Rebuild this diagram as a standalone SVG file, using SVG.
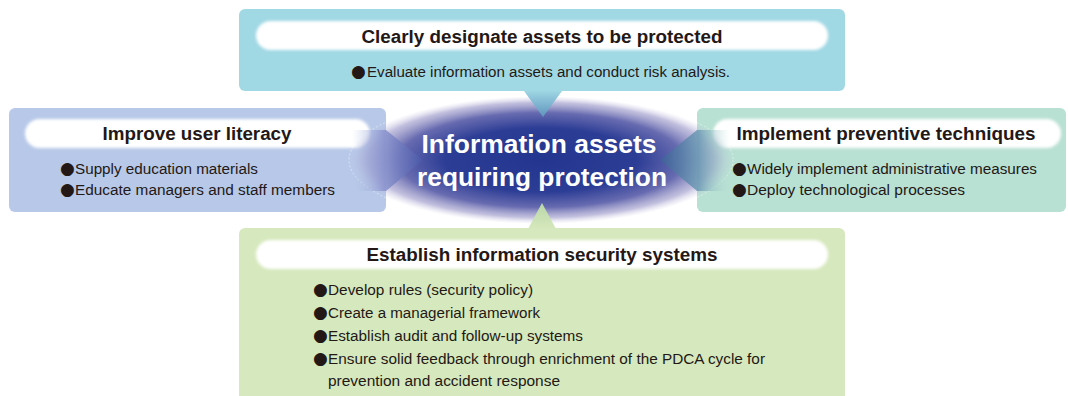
<svg xmlns="http://www.w3.org/2000/svg" width="1068" height="396" viewBox="0 0 1068 396">
<defs>
<style>
.hd{font-family:"Liberation Sans",Arial,sans-serif;font-weight:bold;font-size:18px;fill:#231815;text-anchor:middle}
.bl{font-family:"Liberation Sans",Arial,sans-serif;font-size:14px;fill:#231815}
.b{font-family:"DejaVu Sans",sans-serif;font-size:17px;fill:#231815}
.ct{font-family:"Liberation Sans",Arial,sans-serif;font-weight:bold;font-size:26px;fill:#ffffff;text-anchor:middle}
.pill{fill:#ffffff;filter:url(#soft)}
.arc{fill:none;stroke:#ffffff;stroke-opacity:.55;stroke-width:.8;stroke-dasharray:2 2}
</style>
<filter id="soft" x="-5%" y="-30%" width="110%" height="160%"><feGaussianBlur stdDeviation="1.6"/></filter>
<radialGradient id="glow" cx="0.5" cy="0.5" r="0.5">
<stop offset="0" stop-color="#23358f"/>
<stop offset="0.5" stop-color="#2c3d95"/>
<stop offset="0.74" stop-color="#5a5ea9" stop-opacity="0.92"/>
<stop offset="0.9" stop-color="#9a96c8" stop-opacity="0.6"/>
<stop offset="1" stop-color="#c9c6e2" stop-opacity="0"/>
</radialGradient>
<linearGradient id="gTop" x1="0" y1="0" x2="0" y2="1">
<stop offset="0" stop-color="#9fd6e3"/><stop offset="1" stop-color="#5e93bd"/>
</linearGradient>
<linearGradient id="gBot" x1="0" y1="1" x2="0" y2="0">
<stop offset="0" stop-color="#d6e8bd"/><stop offset="1" stop-color="#b8d6a8"/>
</linearGradient>
<linearGradient id="gLeft" x1="0" y1="0" x2="1" y2="0">
<stop offset="0" stop-color="#b7c8e8" stop-opacity="0"/><stop offset="0.45" stop-color="#8c95cf"/><stop offset="1" stop-color="#4a58a8"/>
</linearGradient>
<linearGradient id="gRight" x1="1" y1="0" x2="0" y2="0">
<stop offset="0" stop-color="#b8e0d3" stop-opacity="0"/><stop offset="0.45" stop-color="#6e9cb5"/><stop offset="1" stop-color="#3e5f98"/>
</linearGradient>
</defs>
<rect width="1068" height="396" fill="#ffffff"/>

<g id="node-top">
<rect x="239" y="9" width="606" height="82" rx="6" fill="#a0d8e4"/>
<rect class="pill" x="256" y="21" width="572" height="29" rx="14.5"/>
<text class="hd" x="542" y="43" textLength="361" lengthAdjust="spacingAndGlyphs">Clearly designate assets to be protected</text>
<text class="bl" x="351" y="77"><tspan class="b">●</tspan><tspan x="367" textLength="363" lengthAdjust="spacingAndGlyphs">Evaluate information assets and conduct risk analysis.</tspan></text>
</g>

<g id="node-left">
<rect x="9" y="108" width="377" height="104" rx="6" fill="#b7c8e8"/>
<rect class="pill" x="25" y="119" width="345" height="29" rx="14.5"/>
<text class="hd" x="197" y="140" textLength="189" lengthAdjust="spacingAndGlyphs">Improve user literacy</text>
<text class="bl" x="60" y="174"><tspan class="b">●</tspan><tspan x="75" textLength="183" lengthAdjust="spacingAndGlyphs">Supply education materials</tspan></text>
<text class="bl" x="60" y="195"><tspan class="b">●</tspan><tspan x="75" textLength="260" lengthAdjust="spacingAndGlyphs">Educate managers and staff members</tspan></text>
</g>

<g id="node-right">
<rect x="697" y="108" width="369" height="104" rx="6" fill="#b8e0d3"/>
<rect class="pill" x="713" y="119" width="348" height="29" rx="14.5"/>
<text class="hd" x="886" y="140" textLength="299" lengthAdjust="spacingAndGlyphs">Implement preventive techniques</text>
<text class="bl" x="732" y="174"><tspan class="b">●</tspan><tspan x="747" textLength="290" lengthAdjust="spacingAndGlyphs">Widely implement administrative measures</tspan></text>
<text class="bl" x="732" y="195"><tspan class="b">●</tspan><tspan x="747" textLength="218" lengthAdjust="spacingAndGlyphs">Deploy technological processes</tspan></text>
</g>

<g id="node-bottom">
<rect x="239" y="228" width="606" height="190" rx="6" fill="#d6e8bd"/>
<rect class="pill" x="256" y="240" width="572" height="29" rx="14.5"/>
<text class="hd" x="542" y="261" textLength="351" lengthAdjust="spacingAndGlyphs">Establish information security systems</text>
<text class="bl" x="313" y="295"><tspan class="b">●</tspan><tspan x="328" textLength="205" lengthAdjust="spacingAndGlyphs">Develop rules (security policy)</tspan></text>
<text class="bl" x="313" y="318"><tspan class="b">●</tspan><tspan x="328" textLength="212" lengthAdjust="spacingAndGlyphs">Create a managerial framework</tspan></text>
<text class="bl" x="313" y="341"><tspan class="b">●</tspan><tspan x="328" textLength="255" lengthAdjust="spacingAndGlyphs">Establish audit and follow-up systems</tspan></text>
<text class="bl" x="313" y="364"><tspan class="b">●</tspan><tspan x="328" textLength="437" lengthAdjust="spacingAndGlyphs">Ensure solid feedback through enrichment of the PDCA cycle for</tspan></text>
<text class="bl" x="328" y="386" textLength="232" lengthAdjust="spacingAndGlyphs">prevention and accident response</text>
</g>

<g id="node-center">
<ellipse cx="541" cy="160" rx="192" ry="64" fill="url(#glow)"/>
<ellipse class="arc" cx="541" cy="160" rx="192" ry="64"/>
<text class="ct" x="539" y="153" textLength="235" lengthAdjust="spacingAndGlyphs">Information assets</text>
<text class="ct" x="542" y="186" textLength="250" lengthAdjust="spacingAndGlyphs">requiring protection</text>
</g>

<g id="connectors">
<polygon points="524,91 562,91 543,117" fill="url(#gTop)"/>
<polygon points="528,229 556,229 542,203" fill="url(#gBot)"/>
<polygon points="352,130 386,130 423,160 386,191 352,191" fill="url(#gLeft)" opacity="0.85"/>
<polygon points="730,130 697,130 660,160 697,191 730,191" fill="url(#gRight)" opacity="0.85"/>
</g>
</svg>
